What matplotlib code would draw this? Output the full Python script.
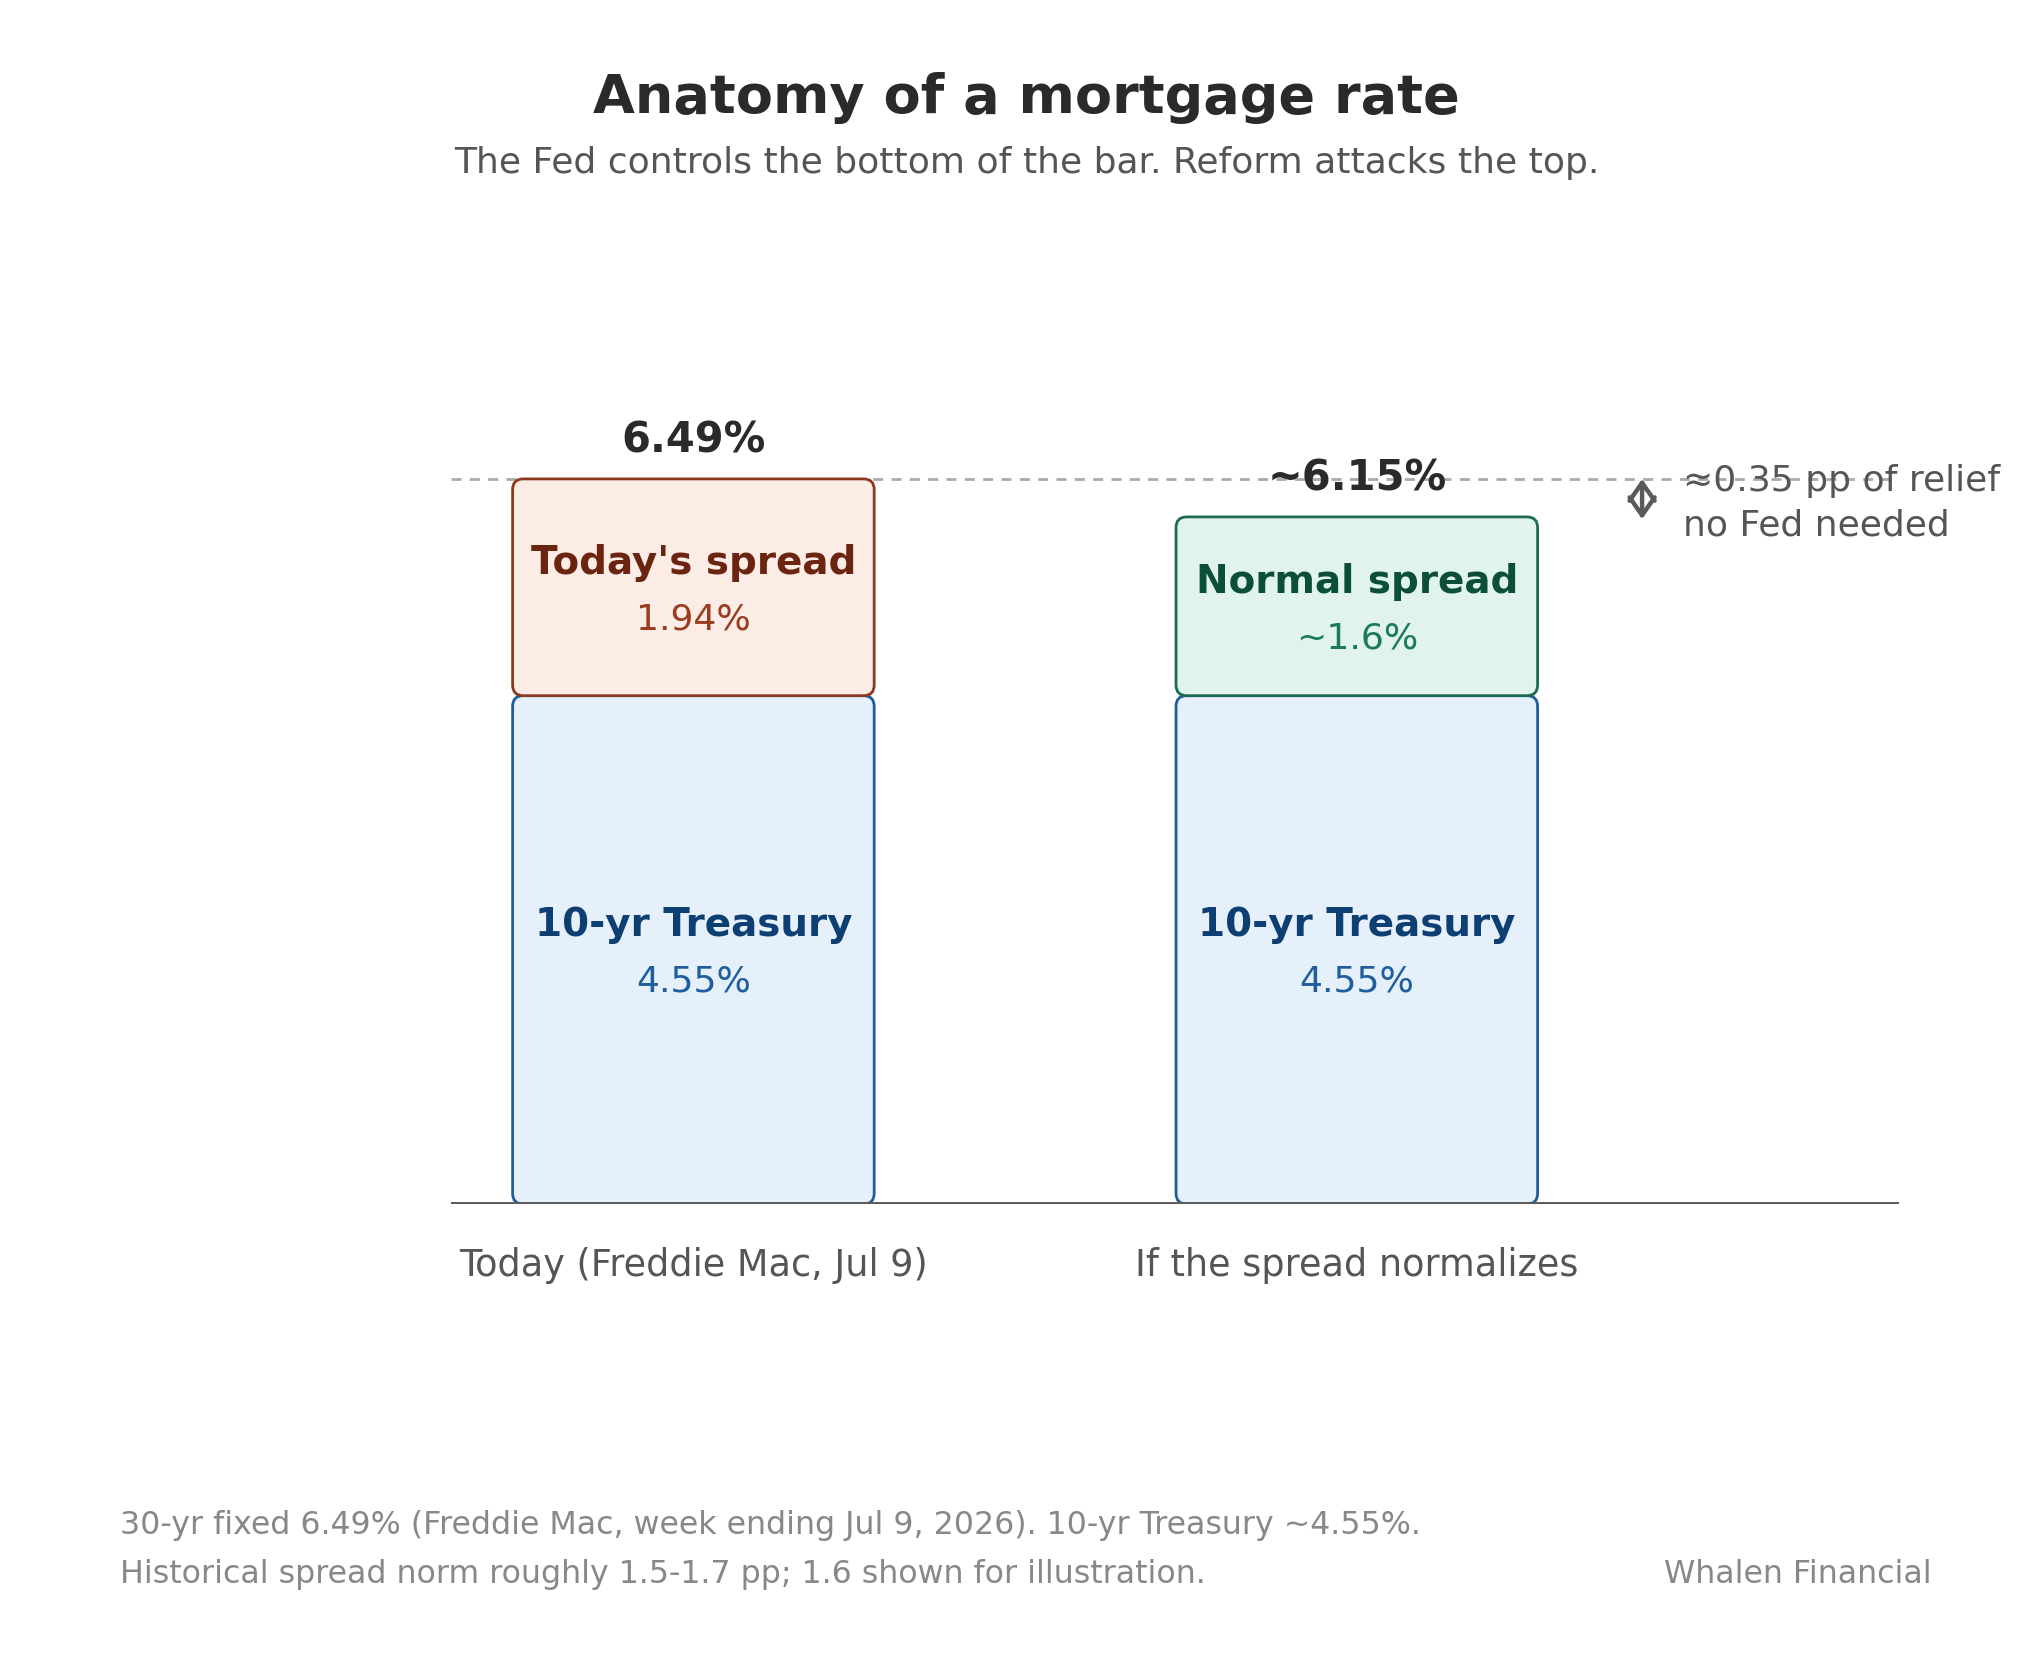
import matplotlib
matplotlib.use("Agg")
import matplotlib.pyplot as plt
from matplotlib.patches import FancyBboxPatch

plt.rcParams['font.family'] = ['DejaVu Sans']

# ---- data ----
categories = ["Today (Freddie Mac, Jul 9)", "If the spread normalizes"]
treasury = [4.55, 4.55]
spread = [1.94, 1.60]
totals = ["6.49%", "~6.15%"]
treasury_labels = ["4.55%", "4.55%"]
spread_names = ["Today's spread", "Normal spread"]
spread_labels = ["1.94%", "~1.6%"]
today_rate = 6.49
relief_text = "\u22480.35 pp of relief\nno Fed needed"

# ---- styles ----
tre_face, tre_edge, tre_title, tre_val = "#E6F0FA", "#1F5E99", "#0D3F73", "#1F5E9E"
spr_face = ["#FBECE6", "#E0F4EC"]
spr_edge = ["#8B3A1E", "#1B6B50"]
spr_title = ["#6B2410", "#0B4F3A"]
spr_val = ["#9B3C1E", "#1B7A58"]

fig = plt.figure(figsize=(10.2, 8.4), dpi=200)
ax = fig.add_axes([0.2212, 0.2833, 0.7096, 0.4988])
ax.set_xlim(-0.365, 1.817)
ax.set_ylim(0, 7.5)
ax.axis('off')

width = 0.545
px_ratio = 507.5 / 85.5  # x-units vs y-units per pixel

for i in range(len(categories)):
    x0 = i - width / 2
    # treasury block
    p = FancyBboxPatch((x0, 0), width, treasury[i],
                       boxstyle="round,pad=0,rounding_size=0.016",
                       mutation_aspect=px_ratio,
                       facecolor=tre_face, edgecolor=tre_edge, lw=1.0, zorder=2)
    ax.add_patch(p)
    # spread block
    p2 = FancyBboxPatch((x0, treasury[i]), width, spread[i],
                        boxstyle="round,pad=0,rounding_size=0.016",
                        mutation_aspect=px_ratio,
                        facecolor=spr_face[i], edgecolor=spr_edge[i], lw=1.0, zorder=2)
    ax.add_patch(p2)

    tm = treasury[i] / 2
    ax.annotate("10-yr Treasury", (i, tm), xytext=(0, 8.8), textcoords='offset points',
                ha='center', va='center', fontsize=14, fontweight='bold',
                color=tre_title, zorder=3)
    ax.annotate(treasury_labels[i], (i, tm), xytext=(0, -11.5), textcoords='offset points',
                ha='center', va='center', fontsize=13, color=tre_val, zorder=3)

    sm = treasury[i] + spread[i] / 2
    ax.annotate(spread_names[i], (i, sm), xytext=(0, 8.8), textcoords='offset points',
                ha='center', va='center', fontsize=14, fontweight='bold',
                color=spr_title[i], zorder=3)
    ax.annotate(spread_labels[i], (i, sm), xytext=(0, -11.5), textcoords='offset points',
                ha='center', va='center', fontsize=13, color=spr_val[i], zorder=3)

    top = treasury[i] + spread[i]
    ax.annotate(totals[i], (i, top), xytext=(0, 14), textcoords='offset points',
                ha='center', va='center', fontsize=15, fontweight='bold',
                color="#2a2a2a", zorder=4)

    ax.text(i, -0.55, categories[i], ha='center', va='center', fontsize=13.2,
            color="#555555")

# dashed reference line at today's rate
ax.axhline(today_rate, color="#aaaaaa", lw=1.0, linestyle=(0, (3.6, 3.0)), zorder=1)
# baseline
ax.axhline(0, color="#5a5a5a", lw=1.4, zorder=3)

# relief arrow + text
new_total = treasury[1] + spread[1]
ax.annotate("", xy=(1.43, new_total - 0.02), xytext=(1.43, today_rate),
            arrowprops=dict(arrowstyle="<->,head_length=0.43,head_width=0.3",
                            color="#5a5a5a", lw=1.6,
                            mutation_scale=15, shrinkA=0, shrinkB=0), zorder=4)
ax.text(1.492, (today_rate + new_total) / 2 - 0.05, relief_text, ha='left', va='center',
        fontsize=13, color="#555555", linespacing=1.4, zorder=4)

# titles
fig.text(0.503, 0.9416, "Anatomy of a mortgage rate", ha='center', va='center',
         fontsize=19.5, fontweight='bold', color="#2a2a2a")
fig.text(0.5035, 0.9027, "The Fed controls the bottom of the bar. Reform attacks the top.",
         ha='center', va='center', fontsize=13, color="#555555")

# footer
fig.text(0.059, 0.0918,
         "30-yr fixed 6.49% (Freddie Mac, week ending Jul 9, 2026). 10-yr Treasury ~4.55%.",
         ha='left', va='center', fontsize=11.4, color="#888888")
fig.text(0.059, 0.063,
         "Historical spread norm roughly 1.5-1.7 pp; 1.6 shown for illustration.",
         ha='left', va='center', fontsize=11.4, color="#888888")
fig.text(0.9468, 0.063, "Whalen Financial", ha='right', va='center', fontsize=11.4,
         color="#888888")

fig.savefig("out.png", dpi=200, facecolor='white')
